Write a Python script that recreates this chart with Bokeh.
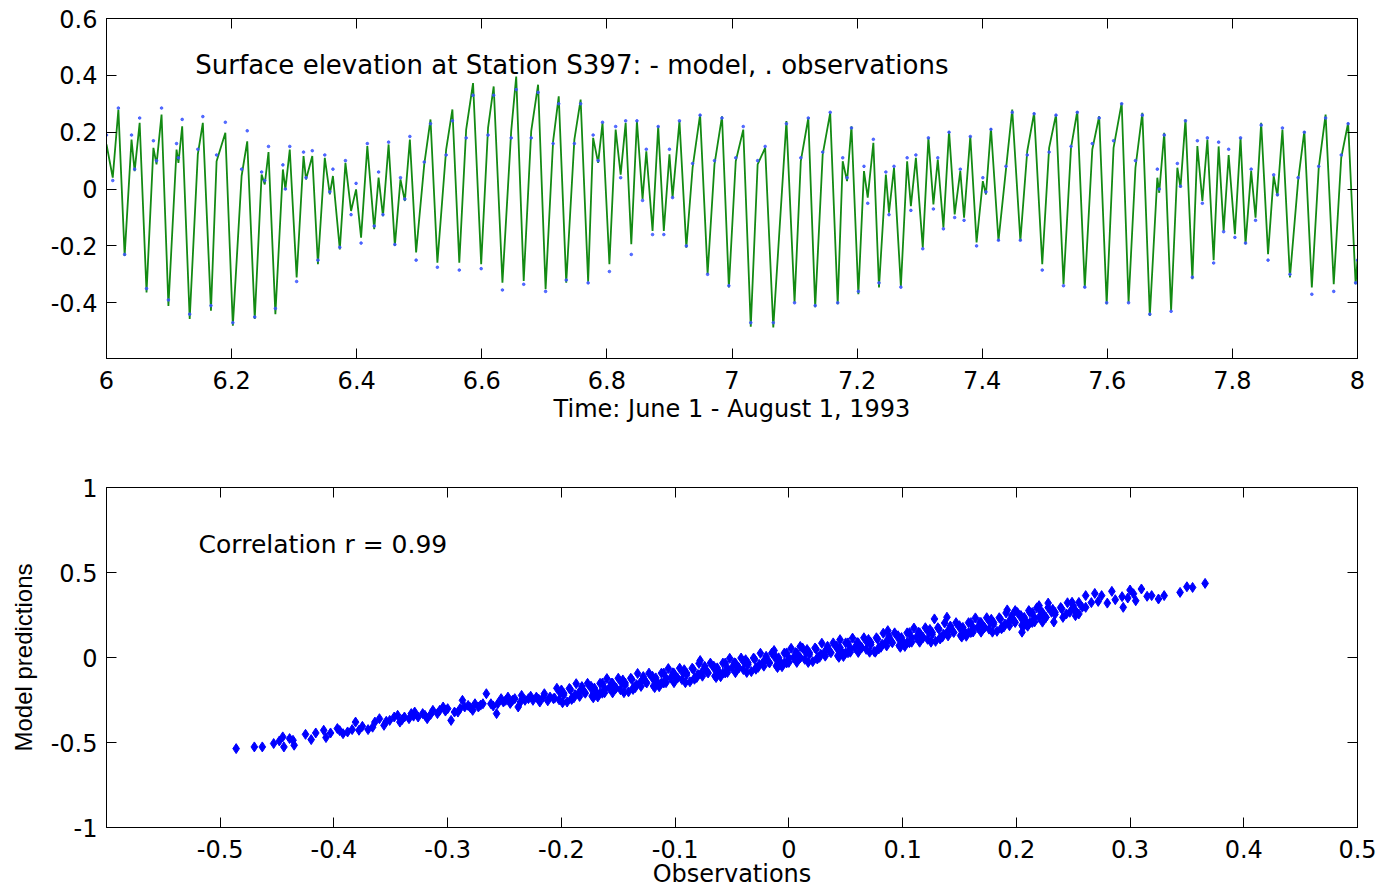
from bokeh.plotting import figure
from bokeh.models import LinearAxis, FixedTicker, CustomJSTickFormatter, Label, Range1d
from bokeh.layouts import column
from bokeh.embed import file_html
from bokeh.resources import INLINE

# ---------------- top panel: surface elevation time series (months 6..8) -------------
time = [
    6.000, 6.010, 6.019, 6.029, 6.040, 6.045, 6.053, 6.064, 6.075, 6.080, 6.088, 6.099, 6.112, 6.115,
    6.121, 6.133, 6.146, 6.154, 6.167, 6.176, 6.190, 6.202, 6.216, 6.225, 6.237, 6.248, 6.253, 6.259,
    6.270, 6.282, 6.286, 6.293, 6.304, 6.315, 6.319, 6.329, 6.338, 6.349, 6.357, 6.362, 6.373, 6.382, 6.391,
    6.399, 6.407, 6.417, 6.428, 6.435, 6.442, 6.451, 6.461, 6.470, 6.477, 6.485, 6.495, 6.508, 6.518,
    6.529, 6.543, 6.553, 6.564, 6.575, 6.586, 6.599, 6.610, 6.619, 6.633, 6.647,
    6.655, 6.667, 6.679, 6.690, 6.702, 6.714, 6.723, 6.735, 6.748, 6.758, 6.770,
    6.778, 6.786, 6.793, 6.804, 6.814, 6.822, 6.830, 6.839, 6.848, 6.857, 6.863, 6.873, 6.882, 6.891,
    6.900, 6.905, 6.916, 6.927, 6.937, 6.949, 6.961, 6.972, 6.984, 6.995, 7.006, 7.018, 7.030,
    7.041, 7.053, 7.066, 7.087, 7.100, 7.110, 7.122, 7.133, 7.145, 7.157, 7.169, 7.177,
    7.184, 7.191, 7.202, 7.211, 7.217, 7.226, 7.235, 7.246, 7.251, 7.259, 7.270,
    7.280, 7.286, 7.294, 7.305, 7.314, 7.322, 7.329, 7.338, 7.347, 7.356, 7.365, 7.371, 7.381, 7.391,
    7.401, 7.406, 7.414, 7.426, 7.438, 7.448, 7.461, 7.472, 7.483, 7.496, 7.507, 7.518, 7.530,
    7.542, 7.552, 7.564, 7.576, 7.587, 7.599, 7.610, 7.623, 7.634, 7.645, 7.656, 7.668,
    7.680, 7.683, 7.691, 7.702, 7.712, 7.717, 7.725, 7.736, 7.744, 7.752, 7.760, 7.770,
    7.778, 7.786, 7.794, 7.804, 7.813, 7.821, 7.830, 7.837, 7.846, 7.857, 7.866, 7.872,
    7.880, 7.892, 7.905, 7.915, 7.927, 7.938, 7.949, 7.962, 7.974, 7.985, 7.997, 8.000,
]
model = [
    0.157, 0.040, 0.280, -0.235, 0.174, 0.063, 0.233, -0.364, 0.145, 0.087, 0.262, -0.411, 0.139, 0.092,
    0.221, -0.457, 0.122, 0.233, -0.428, 0.098, 0.198, -0.481, 0.046, 0.168, -0.457, 0.051, 0.016, 0.130,
    -0.440, 0.069, -0.001, 0.139, -0.311, 0.116, 0.034, 0.116, -0.264, 0.110, -0.019, 0.046, -0.212, 0.092, -0.077,
    -0.001, -0.171, 0.151, -0.141, 0.040, -0.095, 0.157, -0.200, 0.034, -0.042, 0.174, -0.223, 0.087, 0.245,
    -0.259, 0.139, 0.280, -0.259, 0.209, 0.373, -0.264, 0.215, 0.361, -0.329, 0.204,
    0.396, -0.323, 0.204, 0.367, -0.352, 0.168, 0.326, -0.329, 0.174, 0.315, -0.326,
    0.180, 0.092, 0.233, -0.264, 0.209, 0.051, 0.233, -0.194, 0.239, -0.036, 0.133, -0.147, 0.221, -0.147,
    0.122, -0.030, 0.239, -0.206, 0.075, 0.262, -0.299, 0.087, 0.256, -0.346, 0.098, 0.209, -0.484,
    0.087, 0.145, -0.487, 0.239, -0.399, 0.098, 0.250, -0.416, 0.122, 0.268, -0.405, 0.098,
    0.028, 0.221, -0.370, 0.063, -0.030, 0.163, -0.346, 0.051, -0.083, 0.075, -0.343,
    0.098, -0.060, 0.110, -0.206, 0.180, -0.054, 0.104, -0.136, 0.204, -0.089, 0.063, -0.101, 0.186, -0.188,
    0.028, -0.019, 0.215, -0.182, 0.069, 0.280, -0.182, 0.133, 0.268, -0.264, 0.145, 0.262, -0.335,
    0.145, 0.274, -0.346, 0.139, 0.256, -0.405, 0.145, 0.303, -0.399, 0.075, 0.268, -0.446,
    0.040, -0.013, 0.198, -0.428, 0.075, 0.005, 0.245, -0.317, 0.151, -0.042, 0.174, -0.250,
    0.150, -0.147, 0.120, -0.159, 0.180, -0.194, 0.063, -0.101, 0.233, -0.229, 0.046, -0.025,
    0.209, -0.311, 0.028, 0.204, -0.346, 0.075, 0.262, -0.335, 0.110, 0.233, -0.335, -0.250,
]
observed = [
    0.190, 0.030, 0.285, -0.230, 0.190, 0.070, 0.250, -0.350, 0.170, 0.100, 0.285, -0.390, 0.160, 0.110,
    0.245, -0.440, 0.140, 0.255, -0.410, 0.120, 0.235, -0.470, 0.070, 0.205, -0.450, 0.060, 0.030, 0.150,
    -0.420, 0.085, 0.000, 0.150, -0.325, 0.130, 0.040, 0.135, -0.250, 0.120, -0.010, 0.070, -0.205, 0.100, -0.090,
    0.020, -0.190, 0.160, -0.130, 0.060, -0.090, 0.165, -0.195, 0.040, -0.035, 0.185, -0.250, 0.095, 0.230,
    -0.275, 0.120, 0.240, -0.285, 0.180, 0.330, -0.280, 0.190, 0.330, -0.355, 0.180,
    0.350, -0.335, 0.180, 0.340, -0.360, 0.160, 0.300, -0.320, 0.160, 0.300, -0.330,
    0.190, 0.100, 0.235, -0.290, 0.220, 0.040, 0.240, -0.230, 0.240, -0.040, 0.140, -0.160, 0.220, -0.160,
    0.140, -0.030, 0.240, -0.200, 0.090, 0.260, -0.300, 0.100, 0.250, -0.340, 0.110, 0.220, -0.470,
    0.100, 0.150, -0.470, 0.230, -0.400, 0.110, 0.250, -0.410, 0.130, 0.270, -0.400, 0.110,
    0.040, 0.215, -0.360, 0.080, -0.050, 0.175, -0.330, 0.060, -0.090, 0.080, -0.345,
    0.110, -0.075, 0.120, -0.210, 0.180, -0.070, 0.110, -0.140, 0.200, -0.100, 0.070, -0.110, 0.185, -0.200,
    0.040, -0.010, 0.210, -0.180, 0.080, 0.270, -0.180, 0.120, 0.265, -0.285, 0.130, 0.260, -0.340,
    0.150, 0.270, -0.345, 0.160, 0.250, -0.400, 0.170, 0.300, -0.400, 0.100, 0.260, -0.440,
    0.070, 0.000, 0.190, -0.430, 0.090, 0.010, 0.240, -0.310, 0.170, -0.050, 0.180, -0.260,
    0.165, -0.150, 0.140, -0.170, 0.180, -0.190, 0.070, -0.110, 0.225, -0.250, 0.050, -0.020,
    0.215, -0.300, 0.040, 0.200, -0.370, 0.080, 0.250, -0.360, 0.120, 0.230, -0.330, -0.250,
]

# ---------------- bottom panel: model predictions vs observations -----------------
scatter_obs = [
    -0.486, -0.470, -0.463, -0.453, -0.448, -0.445, -0.444, -0.439, -0.436, -0.435,
    -0.425, -0.420, -0.416, -0.409, -0.407, -0.403, -0.397, -0.395, -0.392, -0.388,
    -0.384, -0.381, -0.378, -0.375, -0.370, -0.366, -0.364, -0.360, -0.356, -0.354,
    -0.351, -0.347, -0.344, -0.342, -0.340, -0.338, -0.334, -0.332, -0.330, -0.329,
    -0.326, -0.322, -0.320, -0.318, -0.315, -0.313, -0.309, -0.307, -0.304, -0.302,
    -0.300, -0.297, -0.294, -0.291, -0.289, -0.287, -0.285, -0.282, -0.280, -0.278,
    -0.276, -0.273, -0.271, -0.269, -0.266, -0.262, -0.260, -0.257, -0.256, -0.253,
    -0.251, -0.249, -0.247, -0.245, -0.243, -0.241, -0.238, -0.236, -0.235, -0.232,
    -0.229, -0.227, -0.225, -0.222, -0.220, -0.219, -0.216, -0.215, -0.212, -0.210,
    -0.207,
    -0.204, -0.201, -0.206, -0.199, -0.193, -0.198, -0.191, -0.195,
    -0.187, -0.182, -0.185, -0.189, -0.177, -0.174, -0.179, -0.172,
    -0.166, -0.171, -0.164, -0.168, -0.160, -0.155, -0.158, -0.162,
    -0.150, -0.147, -0.152, -0.145, -0.139, -0.144, -0.137, -0.141,
    -0.133, -0.128, -0.131, -0.135, -0.123, -0.120, -0.125, -0.118,
    -0.112, -0.117, -0.110, -0.114, -0.106, -0.101, -0.104, -0.108,
    -0.096, -0.093, -0.098, -0.091, -0.085, -0.090, -0.083, -0.087,
    -0.079, -0.074, -0.077, -0.081, -0.069, -0.066, -0.071, -0.064,
    -0.058, -0.063, -0.056, -0.060, -0.052, -0.047, -0.050, -0.054,
    -0.042, -0.039, -0.044, -0.037, -0.031, -0.036, -0.029, -0.033,
    -0.025, -0.020, -0.023, -0.027, -0.015, -0.012, -0.017, -0.010,
    -0.004, -0.009, -0.002, -0.006, 0.002, 0.007, 0.004, 0.000,
    0.012, 0.015, 0.010, 0.017, 0.023, 0.018, 0.025, 0.021,
    0.029, 0.034, 0.031, 0.027, 0.039, 0.042, 0.037, 0.044,
    0.050, 0.045, 0.052, 0.048, 0.056, 0.061, 0.058, 0.054,
    0.066, 0.069, 0.064, 0.071, 0.077, 0.072, 0.079, 0.075,
    0.083, 0.088, 0.085, 0.081, 0.093, 0.096, 0.091, 0.098,
    0.104, 0.099, 0.106, 0.102, 0.110, 0.115, 0.112, 0.108,
    0.120, 0.123, 0.118, 0.125, 0.131, 0.126, 0.133, 0.129,
    0.137, 0.142, 0.139, 0.135, 0.147, 0.150, 0.145, 0.152,
    0.158, 0.153, 0.160, 0.156, 0.164, 0.169, 0.166, 0.162,
    0.174, 0.177, 0.172, 0.179, 0.185, 0.180, 0.187, 0.183,
    0.191, 0.196, 0.193, 0.189, 0.201, 0.204, 0.199, 0.206,
    0.212, 0.207, 0.214, 0.210, 0.218, 0.223, 0.220, 0.216,
    0.228, 0.231, 0.226, 0.233, 0.239, 0.234, 0.241,
    0.245, 0.250, 0.247, 0.255, 0.258, 0.253, 0.266, 0.261,
    -0.078, -0.013, 0.010, 0.045, 0.087, 0.076, 0.128, 0.139, 0.192,
    0.199, 0.205, 0.211, 0.220, 0.228, 0.249, 0.252, 0.255, 0.261,
    0.269, 0.272, 0.275, 0.280, 0.284, 0.287, 0.293, 0.294, 0.298, 0.300, 0.303,
    0.305, 0.310, 0.315, 0.319, 0.325, 0.330, 0.344, 0.350, 0.355, 0.366,
    -0.200, -0.198, -0.202, -0.192, -0.188, -0.191, -0.182, -0.180, -0.184,
    -0.174, -0.170, -0.173, -0.164, -0.162, -0.166, -0.156, -0.152, -0.155,
    -0.146, -0.144, -0.148, -0.138, -0.134, -0.137, -0.128, -0.126, -0.130,
    -0.120, -0.116, -0.119, -0.110, -0.108, -0.112, -0.102, -0.098, -0.101,
    -0.092, -0.090, -0.094, -0.084, -0.080, -0.083, -0.074, -0.072, -0.076,
    -0.066, -0.062, -0.065, -0.056, -0.054, -0.058, -0.048, -0.044, -0.047,
    -0.038, -0.036, -0.040, -0.030, -0.026, -0.029, -0.020, -0.018, -0.022,
    -0.012, -0.008, -0.011, -0.002, 0.000, -0.004, 0.006, 0.010, 0.007,
    0.016, 0.018, 0.014, 0.024, 0.028, 0.025, 0.034, 0.036, 0.032,
    0.042, 0.046, 0.043, 0.052, 0.054, 0.050, 0.060, 0.064, 0.061,
    0.070, 0.072, 0.068, 0.078, 0.082, 0.079, 0.088, 0.090, 0.086,
    0.096, 0.100, 0.097, 0.106, 0.108, 0.104, 0.114, 0.118, 0.115,
    0.124, 0.126, 0.122, 0.132, 0.136, 0.133, 0.142, 0.144, 0.140,
    0.150, 0.154, 0.151, 0.160, 0.162, 0.158, 0.168, 0.172, 0.169,
    0.178, 0.180, 0.176, 0.186, 0.190, 0.187, 0.196, 0.198, 0.194,
    0.204, 0.208, 0.205, 0.214, 0.216, 0.212, 0.222, 0.226, 0.223,
    0.232, 0.234, 0.240, 0.244, 0.250, 0.252,
]
scatter_model = [
    -0.536, -0.526, -0.526, -0.506, -0.491, -0.467, -0.526, -0.477, -0.487, -0.516,
    -0.452, -0.483, -0.444, -0.428, -0.471, -0.444, -0.418, -0.430, -0.448, -0.438,
    -0.424, -0.380, -0.428, -0.405, -0.424, -0.410, -0.380, -0.360, -0.399, -0.375,
    -0.370, -0.350, -0.340, -0.380, -0.365, -0.350, -0.360, -0.330, -0.345, -0.321,
    -0.350, -0.330, -0.340, -0.360, -0.335, -0.311, -0.330, -0.311, -0.291, -0.315,
    -0.301, -0.370, -0.321, -0.321, -0.300, -0.252, -0.291, -0.282, -0.295, -0.311,
    -0.272, -0.291, -0.280, -0.272, -0.213, -0.272, -0.285, -0.330, -0.272, -0.242,
    -0.262, -0.252, -0.233, -0.270, -0.252, -0.242, -0.291, -0.262, -0.223, -0.252,
    -0.242, -0.228, -0.252, -0.233, -0.245, -0.262, -0.233, -0.213, -0.255, -0.233,
    -0.242,
    -0.181, -0.209, -0.239, -0.266, -0.182, -0.210, -0.240, -0.262,
    -0.154, -0.182, -0.210, -0.237, -0.152, -0.180, -0.210, -0.237,
    -0.152, -0.180, -0.210, -0.232, -0.124, -0.152, -0.180, -0.207,
    -0.122, -0.150, -0.180, -0.207, -0.122, -0.150, -0.180, -0.202,
    -0.094, -0.122, -0.150, -0.177, -0.092, -0.120, -0.150, -0.177,
    -0.092, -0.120, -0.150, -0.172, -0.065, -0.093, -0.121, -0.148,
    -0.063, -0.091, -0.121, -0.148, -0.063, -0.091, -0.121, -0.143,
    -0.035, -0.063, -0.091, -0.118, -0.033, -0.061, -0.091, -0.118,
    -0.033, -0.061, -0.091, -0.113, -0.005, -0.033, -0.061, -0.088,
    -0.003, -0.031, -0.061, -0.088, -0.003, -0.031, -0.061, -0.083,
    0.025, -0.003, -0.031, -0.058, 0.026, -0.002, -0.032, -0.059,
    0.026, -0.002, -0.032, -0.054, 0.054, 0.026, -0.002, -0.029,
    0.056, 0.028, -0.002, -0.029, 0.056, 0.028, -0.002, -0.024,
    0.084, 0.056, 0.028, 0.001, 0.086, 0.058, 0.028, 0.001,
    0.086, 0.058, 0.028, 0.006, 0.114, 0.086, 0.058, 0.031,
    0.116, 0.088, 0.058, 0.031, 0.116, 0.088, 0.058, 0.036,
    0.143, 0.115, 0.087, 0.060, 0.145, 0.117, 0.087, 0.060,
    0.145, 0.117, 0.087, 0.065, 0.173, 0.145, 0.117, 0.090,
    0.175, 0.147, 0.117, 0.090, 0.175, 0.147, 0.117, 0.095,
    0.203, 0.175, 0.147, 0.120, 0.205, 0.177, 0.147, 0.120,
    0.205, 0.177, 0.147, 0.125, 0.233, 0.205, 0.177, 0.150,
    0.234, 0.206, 0.176, 0.149, 0.234, 0.206, 0.176, 0.154,
    0.262, 0.234, 0.206, 0.179, 0.264, 0.236, 0.206, 0.179,
    0.264, 0.236, 0.206, 0.184, 0.292, 0.264, 0.236, 0.209,
    0.294, 0.266, 0.236, 0.209, 0.294, 0.266, 0.236,
    0.322, 0.294, 0.266, 0.324, 0.296, 0.266, 0.323, 0.295,
    -0.018, 0.041, 0.065, 0.105, 0.158, 0.031, 0.227, 0.237, 0.280,
    0.276, 0.149, 0.276, 0.305, 0.320, 0.325, 0.246, 0.256, 0.364,
    0.377, 0.330, 0.364, 0.320, 0.389, 0.340, 0.358, 0.295, 0.350, 0.397, 0.375,
    0.334, 0.403, 0.360, 0.364, 0.344, 0.364, 0.383, 0.416, 0.412, 0.436,
    -0.191, -0.221, -0.249, -0.189, -0.219, -0.247, -0.171, -0.201, -0.229,
    -0.169, -0.199, -0.227, -0.151, -0.181, -0.209, -0.150, -0.180, -0.208,
    -0.132, -0.162, -0.190, -0.130, -0.160, -0.188, -0.112, -0.142, -0.170,
    -0.110, -0.140, -0.168, -0.092, -0.122, -0.150, -0.090, -0.120, -0.148,
    -0.072, -0.102, -0.130, -0.070, -0.100, -0.128, -0.052, -0.082, -0.110,
    -0.051, -0.081, -0.109, -0.033, -0.063, -0.091, -0.031, -0.061, -0.089,
    -0.013, -0.043, -0.071, -0.011, -0.041, -0.069, 0.007, -0.023, -0.051,
    0.009, -0.021, -0.049, 0.027, -0.003, -0.031, 0.029, -0.001, -0.029,
    0.047, 0.017, -0.011, 0.049, 0.019, -0.009, 0.066, 0.036, 0.008,
    0.068, 0.038, 0.010, 0.086, 0.056, 0.028, 0.088, 0.058, 0.030,
    0.106, 0.076, 0.048, 0.108, 0.078, 0.050, 0.126, 0.096, 0.068,
    0.128, 0.098, 0.070, 0.146, 0.116, 0.088, 0.148, 0.118, 0.090,
    0.165, 0.135, 0.107, 0.167, 0.137, 0.109, 0.185, 0.155, 0.127,
    0.187, 0.157, 0.129, 0.205, 0.175, 0.147, 0.207, 0.177, 0.149,
    0.225, 0.195, 0.167, 0.227, 0.197, 0.169, 0.245, 0.215, 0.187,
    0.247, 0.217, 0.189, 0.264, 0.234, 0.206, 0.266, 0.236, 0.208,
    0.284, 0.254, 0.286, 0.256, 0.304, 0.274,
]

top_xticks = [6.0, 6.2, 6.4, 6.6, 6.8, 7.0, 7.2, 7.4, 7.6, 7.8, 8.0]
top_yticks = [-0.4, -0.2, 0.0, 0.2, 0.4, 0.6]
bot_xticks = [-0.5, -0.4, -0.3, -0.2, -0.1, 0.0, 0.1, 0.2, 0.3, 0.4, 0.5]
bot_yticks = [-1.0, -0.5, 0.0, 0.5, 1.0]

title_text = "Surface elevation at Station S397:  - model, . observations"
corr_text = "Correlation r = 0.99"
top_xlabel = "Time: June 1 - August 1, 1993"
bot_xlabel = "Observations"
bot_ylabel = "Model predictions"

FONT = "DejaVu Sans"
FS = "24px"

fmt_code = "return String(Math.round(tick*100)/100);"


def style(p, xticks, yticks):
    p.xgrid.visible = False
    p.ygrid.visible = False
    p.outline_line_color = "black"
    p.outline_line_width = 1
    p.background_fill_color = "white"
    p.border_fill_color = "white"
    xa = p.below[0]
    ya = p.left[0]
    for ax, ticks in ((xa, xticks), (ya, yticks)):
        ax.ticker = FixedTicker(ticks=ticks)
        ax.formatter = CustomJSTickFormatter(code=fmt_code)
        ax.major_tick_in = 10
        ax.major_tick_out = 0
        ax.minor_tick_line_color = None
        ax.axis_line_color = "black"
        ax.major_tick_line_color = "black"
        ax.major_label_text_font = FONT
        ax.major_label_text_font_size = FS
        ax.major_label_text_color = "black"
        ax.axis_label_text_font = FONT
        ax.axis_label_text_font_size = FS
        ax.axis_label_text_font_style = "normal"
        ax.axis_label_text_color = "black"
    xa.major_label_standoff = 12
    ya.major_label_standoff = 9
    # mirrored tick marks on top and right (MATLAB box)
    for ticks, side in ((xticks, "above"), (yticks, "right")):
        m = LinearAxis(ticker=FixedTicker(ticks=ticks),
                       formatter=CustomJSTickFormatter(code="return '';"),
                       major_tick_in=10, major_tick_out=0,
                       minor_tick_line_color=None,
                       axis_line_color="black", major_tick_line_color="black",
                       major_label_text_font_size="0px", major_label_standoff=0)
        p.add_layout(m, side)
    return xa, ya


# ---- top
top = figure(width=1382, height=440, x_range=Range1d(6, 8), y_range=Range1d(-0.596, 0.6),
             output_backend="svg", toolbar_location=None,
             min_border_left=106, min_border_right=25, min_border_top=18, min_border_bottom=82)
txa, tya = style(top, top_xticks, top_yticks)
txa.axis_label = top_xlabel
txa.axis_label_standoff = 3
top.line(time, model, line_color="#138a13", line_width=1.8)
top.scatter(time, observed, marker="circle", size=2.6, color="#3a55ff", alpha=0.85)
top.add_layout(Label(x=6.142, y=0.435, text=title_text, text_font=FONT, text_font_size="26px",
                     text_baseline="middle", text_color="black"))

# ---- bottom
bot = figure(width=1382, height=450, x_range=Range1d(-0.6, 0.5), y_range=Range1d(-1, 1),
             output_backend="svg", toolbar_location=None,
             min_border_left=106, min_border_right=25, min_border_top=47, min_border_bottom=62)
bxa, bya = style(bot, bot_xticks, bot_yticks)
bxa.axis_label = bot_xlabel
bxa.axis_label_standoff = -1
bya.axis_label = bot_ylabel
bya.axis_label_text_font = "Liberation Sans"
bya.axis_label_standoff = 11
bot.scatter(scatter_obs, scatter_model, marker="diamond", size=10, color="#0000ff")
bot.add_layout(Label(x=-0.519, y=0.666, text=corr_text, text_font=FONT, text_font_size="25px",
                     text_baseline="middle", text_color="black"))

layout = column(top, bot, spacing=0)
open("out.html", "w").write(file_html(layout, INLINE, title="Surface elevation S397"))
